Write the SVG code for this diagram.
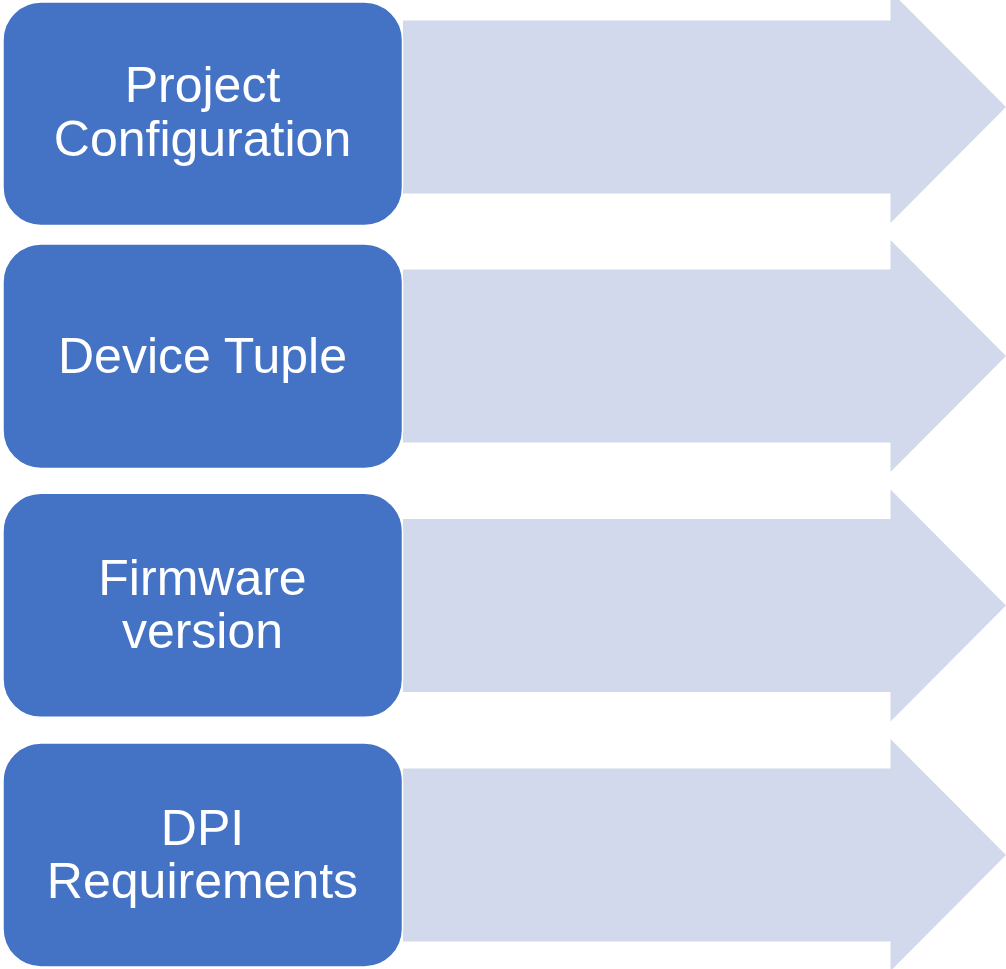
<svg xmlns="http://www.w3.org/2000/svg" width="1006" height="969" viewBox="0 0 1006 969">
<style>
.arrow{fill:#D2D9EC}
.box{fill:#4472C4;stroke:#FFFFFF;stroke-width:1.5}
.lbl{font-family:"Liberation Sans",Arial,sans-serif;font-size:50px;fill:#FFFFFF;text-anchor:middle}
</style>
<rect width="1006" height="969" fill="#FFFFFF"/>
<g id="connectors">
<polygon class="arrow" points="403,20.5 890.5,20.5 890.5,-9 1006,107 890.5,223 890.5,193.5 403,193.5"/>
<polygon class="arrow" points="403,269.5 890.5,269.5 890.5,240 1006,356 890.5,472 890.5,442.5 403,442.5"/>
<polygon class="arrow" points="403,519 890.5,519 890.5,489.5 1006,605.5 890.5,721.5 890.5,692 403,692"/>
<polygon class="arrow" points="403,768.5 890.5,768.5 890.5,739 1006,855 890.5,971 890.5,941.5 403,941.5"/>
</g>
<g id="node1">
<rect class="box" x="3" y="2" width="399.5" height="223.5" rx="38" ry="38"/>
<text class="lbl" x="202.5" y="102">Project</text>
<text class="lbl" x="202.5" y="156">Configuration</text>
</g>
<g id="node2">
<rect class="box" x="3" y="244" width="399.5" height="224.5" rx="38" ry="38"/>
<text class="lbl" x="202.5" y="373">Device Tuple</text>
</g>
<g id="node3">
<rect class="box" x="3" y="493.3" width="399.5" height="224" rx="38" ry="38"/>
<text class="lbl" x="202.5" y="594.5">Firmware</text>
<text class="lbl" x="202.5" y="648">version</text>
</g>
<g id="node4">
<rect class="box" x="3" y="743" width="399.5" height="224" rx="38" ry="38"/>
<text class="lbl" x="202.5" y="845">DPI</text>
<text class="lbl" x="202.5" y="898">Requirements</text>
</g>
</svg>
